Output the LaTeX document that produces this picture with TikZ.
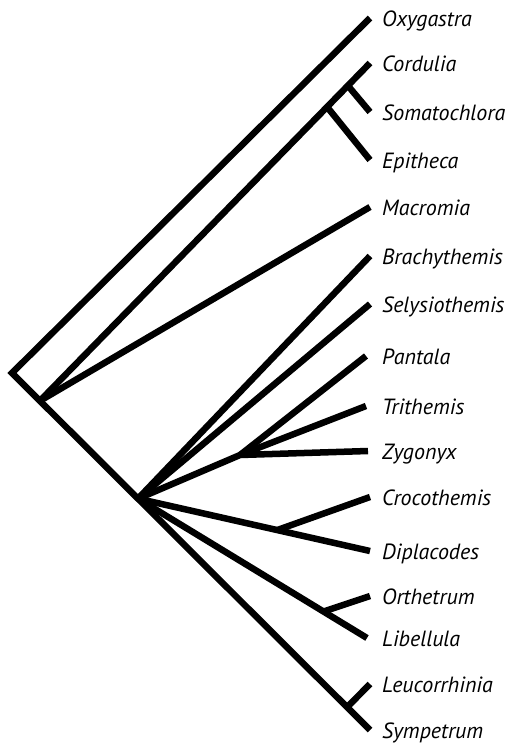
\documentclass[tikz,border=0pt]{standalone}
\usepackage{fontspec}
\setmainfont{PT Sans}
\usetikzlibrary{calc,positioning}

\tikzset{
  branch/.style={line width=6.5pt, line cap=butt, line join=miter},
  taxon/.style={anchor=base west, inner sep=0pt, font=\itshape\fontsize{22}{26}\selectfont}
}

\begin{document}
\begin{tikzpicture}[x=1pt,y=-1pt]
\useasboundingbox (0,0) rectangle (506,745);
% Tips and their names
\foreach \x/\y/\name in {370/18/Oxygastra, 370/63/Cordulia, 370/112/Somatochlora,
  370/160/Epitheca, 370/207/Macromia, 370/256/Brachythemis, 370/304/Selysiothemis,
  366/356/Pantala, 366/406/Trithemis, 368/451/Zygonyx, 370/497/Crocothemis,
  370/551/Diplacodes, 370/596/Orthetrum, 367/638/Libellula, 370/684/Leucorrhinia,
  370/730/Sympetrum}{
  \coordinate (\name) at (\x,\y);
  \node[taxon] (l\name) at (382,\y+8) {\name};
}
% Internal nodes
\coordinate (root) at (12,373);
\coordinate (n1) at ($(root)!0.078!(Sympetrum)$);
\coordinate (n2) at ($(root)!0.352!(Sympetrum)$);
\coordinate (nLeu) at ($(root)!0.936!(Sympetrum)$);
\coordinate (nEpi) at ($(n1)!0.87!(Cordulia)$);
\coordinate (nSom) at ($(n1)!0.933!(Cordulia)$);
\coordinate (nPan) at (240,455);
\coordinate (nCro) at ($(n2)!0.6!(Diplacodes)$);
\coordinate (nOrt) at ($(n2)!0.81!(Libellula)$);
% Branches
\draw[branch] (Oxygastra) -- (root) -- (Sympetrum);
\draw[branch] (n1) -- (Cordulia);
\draw[branch] (nEpi) -- (Epitheca);
\draw[branch] (nSom) -- (Somatochlora);
\draw[branch] (n1) -- (Macromia);
\draw[branch] (n2) -- (Brachythemis);
\draw[branch] (n2) -- (Selysiothemis);
\draw[branch] (n2) -- (nPan) -- (Zygonyx);
\draw[branch] (nPan) -- (Pantala);
\draw[branch] (nPan) -- (Trithemis);
\draw[branch] (n2) -- (Diplacodes);
\draw[branch] (nCro) -- (Crocothemis);
\draw[branch] (n2) -- (Libellula);
\draw[branch] (nOrt) -- (Orthetrum);
\draw[branch] (nLeu) -- (Leucorrhinia);
\end{tikzpicture}
\end{document}
